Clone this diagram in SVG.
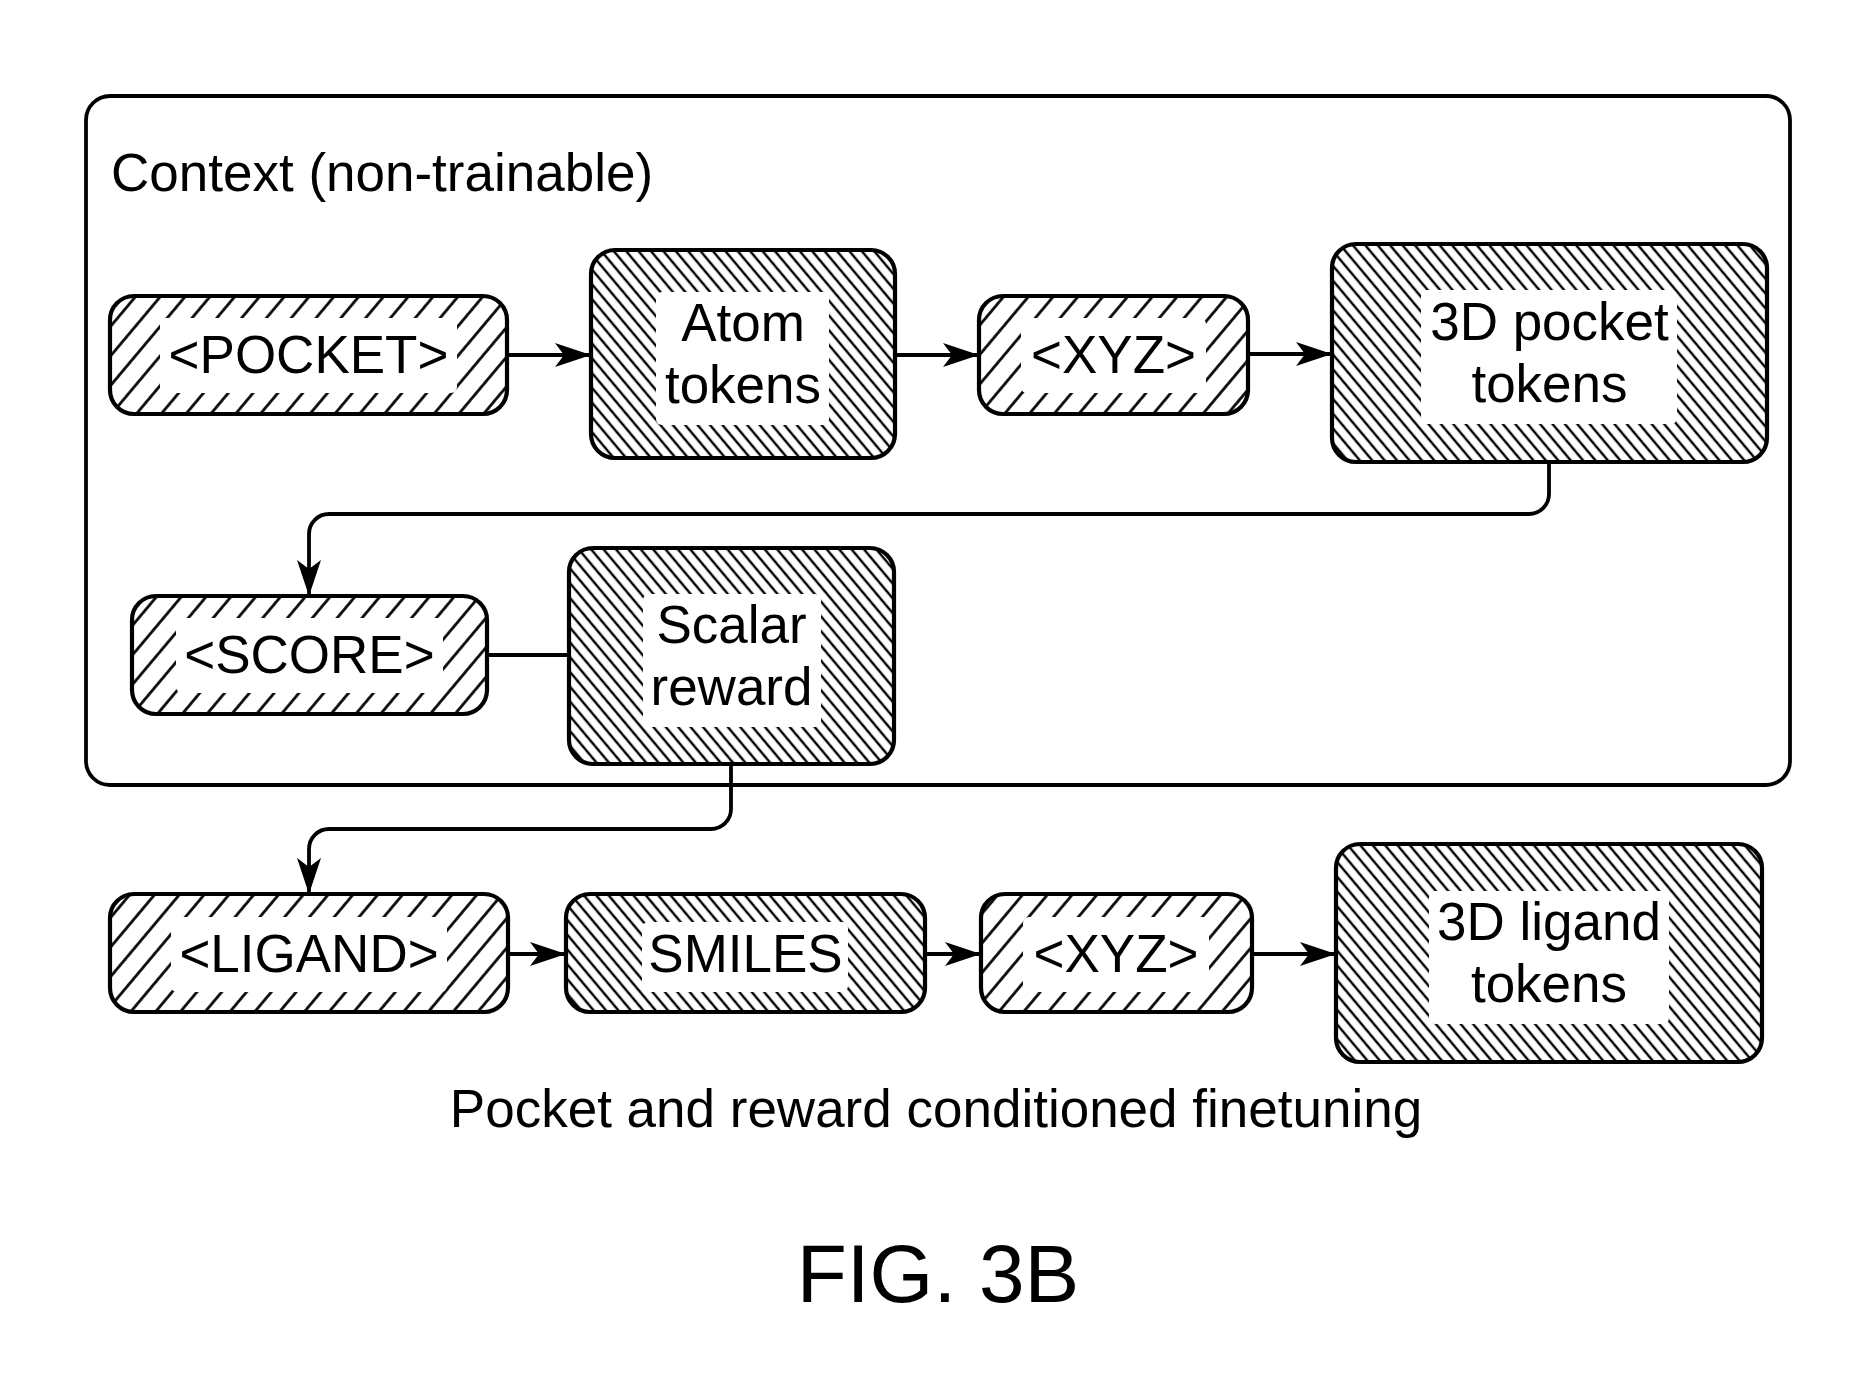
<svg xmlns="http://www.w3.org/2000/svg" width="1876" height="1387" viewBox="0 0 1876 1387">
<style>
  .txt { font-family: "Liberation Sans", Arial, sans-serif; font-size: 53px; fill: #000; }
  .lbl { font-family: "Liberation Sans", Arial, sans-serif; font-size: 53px; fill: #000; text-anchor: middle; }
  .fig { font-family: "Liberation Sans", Arial, sans-serif; font-size: 82px; fill: #000; text-anchor: middle; }
  .tag { fill: url(#hatchF); stroke: #000; stroke-width: 4.2; }
  .content { fill: url(#hatchB); stroke: #000; stroke-width: 4.2; }
  .inner { fill: #fff; stroke: none; }
  .conn { fill: none; stroke: #000; stroke-width: 3.8; }
  .arrow { marker-end: url(#arr); }
  .frame { fill: none; stroke: #000; stroke-width: 3.8; }
</style>
<defs>
  <pattern id="hatchF" patternUnits="userSpaceOnUse" width="19" height="19" patternTransform="rotate(40)">
    <rect width="19" height="19" fill="#fff"/>
    <line x1="9.5" y1="0" x2="9.5" y2="19" stroke="#000" stroke-width="2.7"/>
  </pattern>
  <pattern id="hatchB" patternUnits="userSpaceOnUse" width="9.5" height="9.5" patternTransform="rotate(-40)">
    <rect width="9.5" height="9.5" fill="#fff"/>
    <line x1="4.75" y1="0" x2="4.75" y2="9.5" stroke="#000" stroke-width="2.4"/>
  </pattern>
  <marker id="arr" markerUnits="userSpaceOnUse" markerWidth="37" markerHeight="24" viewBox="0 0 37 24" refX="36" refY="12" orient="auto">
    <path d="M0,0 L36,12 L0,24 L9,12 Z" fill="#000"/>
  </marker>
</defs>
<rect x="0" y="0" width="1876" height="1387" fill="#fff"/>

<g id="context-frame">
  <rect class="frame" x="86" y="96" width="1704" height="689" rx="24"/>
  <text class="txt" x="111" y="191">Context (non-trainable)</text>
</g>

<g id="connectors">
  <path class="conn arrow" d="M507,355 H591"/>
  <path class="conn arrow" d="M895,355 H979"/>
  <path class="conn arrow" d="M1248,354 H1332"/>
  <path class="conn arrow" d="M1549,462 V494 A20,20 0 0 1 1529,514 H329 A20,20 0 0 0 309,534 V596"/>
  <path class="conn" d="M487,655 H570"/>
  <path class="conn arrow" d="M731,764 V809 A20,20 0 0 1 711,829 H329 A20,20 0 0 0 309,849 V894"/>
  <path class="conn arrow" d="M508,954 H566"/>
  <path class="conn arrow" d="M925,954 H981"/>
  <path class="conn arrow" d="M1252,954 H1336"/>
</g>

<g id="node-pocket">
  <rect class="tag" x="110" y="296" width="397" height="118" rx="24"/>
  <rect class="inner" x="160" y="318" width="297" height="75" rx="6"/>
  <text class="lbl" x="308.5" y="373">&lt;POCKET&gt;</text>
</g>

<g id="node-atom-tokens">
  <rect class="content" x="591" y="250" width="304" height="208" rx="24"/>
  <rect class="inner" x="656" y="292" width="173" height="133" rx="6"/>
  <text class="lbl" x="743" y="341">Atom</text>
  <text class="lbl" x="743" y="403">tokens</text>
</g>

<g id="node-xyz-1">
  <rect class="tag" x="979" y="296" width="269" height="118" rx="24"/>
  <rect class="inner" x="1021" y="318" width="185" height="75" rx="6"/>
  <text class="lbl" x="1113.5" y="373">&lt;XYZ&gt;</text>
</g>

<g id="node-3d-pocket-tokens">
  <rect class="content" x="1332" y="244" width="435" height="218" rx="24"/>
  <rect class="inner" x="1421" y="290" width="256" height="134" rx="6"/>
  <text class="lbl" x="1549.5" y="340">3D pocket</text>
  <text class="lbl" x="1549.5" y="402">tokens</text>
</g>

<g id="node-score">
  <rect class="tag" x="132" y="596" width="355" height="118" rx="24"/>
  <rect class="inner" x="176" y="618" width="267" height="75" rx="6"/>
  <text class="lbl" x="309.5" y="673">&lt;SCORE&gt;</text>
</g>

<g id="node-scalar-reward">
  <rect class="content" x="569" y="548" width="325" height="216" rx="24"/>
  <rect class="inner" x="643" y="594" width="178" height="133" rx="6"/>
  <text class="lbl" x="731.5" y="643">Scalar</text>
  <text class="lbl" x="731.5" y="705">reward</text>
</g>

<g id="node-ligand">
  <rect class="tag" x="110" y="894" width="398" height="118" rx="24"/>
  <rect class="inner" x="171" y="917" width="276" height="75" rx="6"/>
  <text class="lbl" x="309" y="972">&lt;LIGAND&gt;</text>
</g>

<g id="node-smiles">
  <rect class="content" x="566" y="894" width="359" height="118" rx="24"/>
  <rect class="inner" x="642" y="922" width="206" height="70" rx="6"/>
  <text class="lbl" x="745.5" y="972">SMILES</text>
</g>

<g id="node-xyz-2">
  <rect class="tag" x="981" y="894" width="271" height="118" rx="24"/>
  <rect class="inner" x="1023" y="917" width="186" height="75" rx="6"/>
  <text class="lbl" x="1116" y="972">&lt;XYZ&gt;</text>
</g>

<g id="node-3d-ligand-tokens">
  <rect class="content" x="1336" y="844" width="426" height="218" rx="24"/>
  <rect class="inner" x="1429" y="891" width="240" height="133" rx="6"/>
  <text class="lbl" x="1549" y="940">3D ligand</text>
  <text class="lbl" x="1549" y="1002">tokens</text>
</g>

<g id="captions">
  <text class="lbl" x="936" y="1127">Pocket and reward conditioned finetuning</text>
  <text class="fig" x="938" y="1302">FIG. 3B</text>
</g>
</svg>
